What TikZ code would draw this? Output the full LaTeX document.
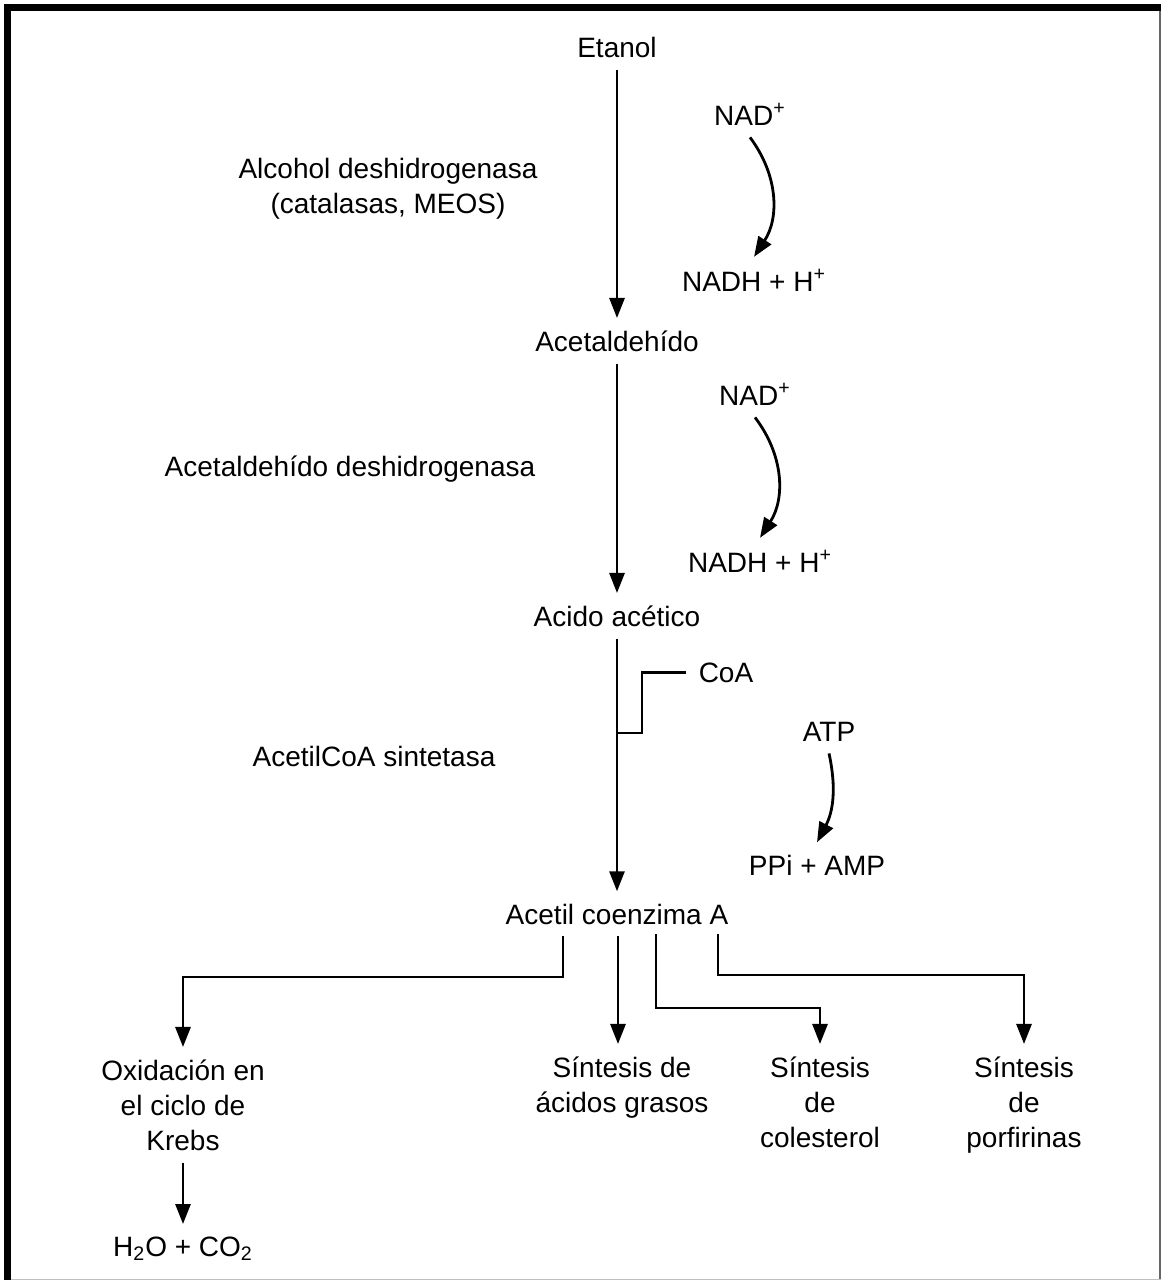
\documentclass[tikz,border=0pt]{standalone}
\usepackage{fontspec}
\setmainfont{Liberation Sans}
\usetikzlibrary{arrows.meta}

\tikzset{
  metab/.style={inner sep=6pt,anchor=base,align=center,font=\fontsize{14}{17.5}\selectfont},
  conv/.style={line width=1.4pt,-{Triangle[length=10pt,width=7.5pt]}},
  link/.style={line width=1.4pt},
}

\begin{document}
\begin{tikzpicture}[x=0.5pt,y=-0.5pt]
\useasboundingbox (0,0) rectangle (1161,1280);
\draw[line width=3.5pt] (7.5,1280) -- (7.5,7.5) -- (1161,7.5);
\draw[gray!80!black,line width=0.6pt] (1160,11) -- (1160,1280);
\draw[gray!50,line width=0.8pt] (11,1279.5) -- (1161,1279.5);

\node[metab] at (617,57) (etanol) {Etanol};
\node[metab] at (617,351) (acald) {Acetaldehído};
\node[metab] at (617,626) (acido) {Acido acético};
\node[metab] at (617,924) (acoa) {Acetil coenzima A};

\node[metab] at (388,213) (adh) {Alcohol deshidrogenasa\\(catalasas, MEOS)};
\node[metab] at (350,476) (aldh) {Acetaldehído deshidrogenasa};
\node[metab] at (374,766) (acs) {AcetilCoA sintetasa};

\node[metab] at (750,125) (nad1) {NAD\textsuperscript{+}};
\node[metab] at (754,291) (nadh1) {NADH + H\textsuperscript{+}};
\node[metab] at (755,405) (nad2) {NAD\textsuperscript{+}};
\node[metab] at (760,572) (nadh2) {NADH + H\textsuperscript{+}};
\node[metab] at (829,741) (atp) {ATP};
\node[metab] at (817,875) (ppi) {PPi + AMP};
\node[metab] at (726,682) (coa) {CoA};

\node[metab] at (183,1150) (krebs) {Oxidación en\\el ciclo de\\Krebs};
\node[metab] at (622,1112) (grasos) {Síntesis de\\ácidos grasos};
\node[metab] at (820,1147) (coles) {Síntesis\\de\\colesterol};
\node[metab] at (1024,1147) (porf) {Síntesis\\de\\porfirinas};
\node[metab] at (183,1256) (h2o) {H\textsubscript{2}O + CO\textsubscript{2}};

\draw[conv] (etanol) -- (acald);
\draw[conv] (acald) -- (acido);
\draw[conv] (acido) -- (acoa);

\draw[conv] (nad1.south) to[bend left=35] (nadh1.north);
\draw[conv] (nad2.south) to[bend left=35] (nadh2.north);
\draw[conv] (atp.south) to[bend left=20] (ppi.north);

\coordinate (coaj) at (617,733);
\draw[link] (coaj) -- ++(25,0) |- (coa);

\coordinate (br1) at (563,936);
\coordinate (br2) at (618,936);
\coordinate (br3) at (656,934);
\coordinate (br4) at (718,934);
\draw[conv] (br1) -- ++(0,41) -| (krebs);
\draw[conv] (br2) -- (br2 |- grasos.north);
\draw[conv] (br3) -- ++(0,74) -| (coles);
\draw[conv] (br4) -- ++(0,41) -| (porf);
\draw[conv] (krebs) -- (h2o);
\end{tikzpicture}
\end{document}
